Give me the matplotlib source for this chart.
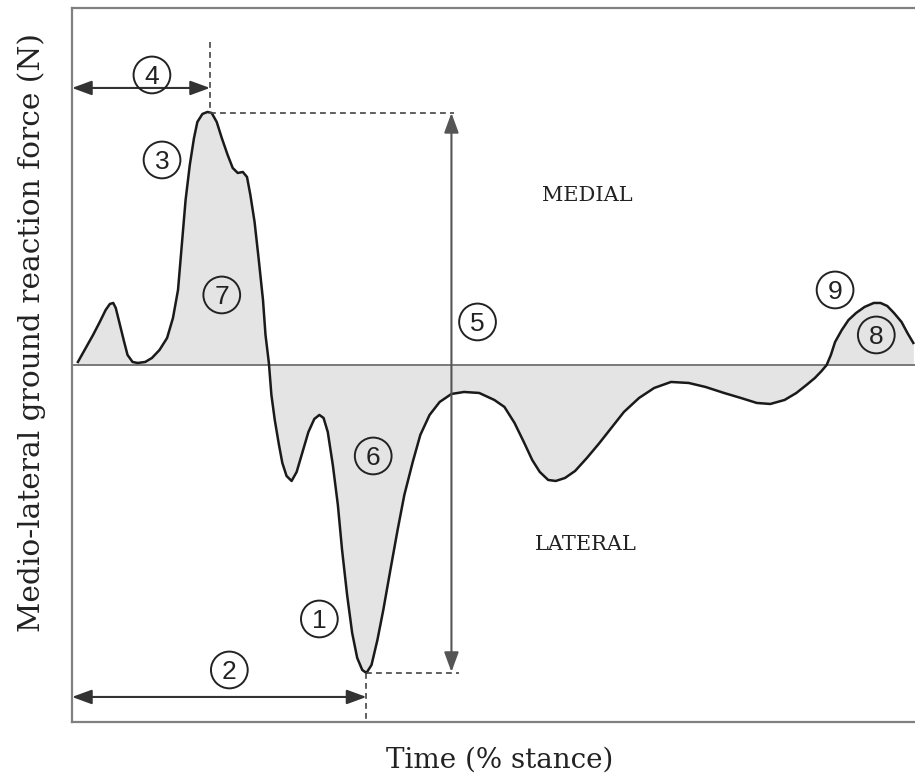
import numpy as np
import matplotlib.pyplot as plt

# time (% stance) and medio-lateral force (arbitrary N)
time_pct = [0.7, 1.5, 2.5, 3.3, 4.0, 4.5, 4.9, 5.2, 5.7, 6.2, 6.6, 7.2, 7.8, 8.7, 9.5,
            10.4, 11.3, 12.0, 12.6, 13.0, 13.5, 14.0, 14.5, 14.9, 15.5, 16.1, 16.6,
            17.2, 17.8, 18.5, 19.1, 19.7, 20.3, 20.8, 21.2, 21.7, 22.2, 22.7, 23.0,
            23.4, 23.7, 24.1, 24.6, 25.0, 25.5, 26.1, 26.7, 27.4, 28.1, 28.8, 29.4,
            29.9, 30.4, 31.0, 31.6, 32.1, 32.7, 33.3, 33.9, 34.5, 35.0, 35.6, 36.3,
            37.0, 37.8, 38.7, 39.5, 40.5, 41.4, 42.5, 43.7, 45.1, 46.6, 48.4, 50.2,
            51.4, 52.6, 53.7, 54.7, 55.6, 56.6, 57.5, 58.6, 59.8, 61.2, 62.6, 64.1,
            65.6, 67.4, 69.2, 71.2, 73.3, 75.3, 77.5, 79.5, 81.4, 83.0, 84.7, 86.1,
            87.3, 88.3, 89.1, 89.7, 90.2, 90.7, 91.5, 92.3, 93.2, 94.2, 95.3, 96.1,
            96.9, 97.7, 98.6, 99.3, 100.0]
force = [3, 15, 30, 43, 55, 61, 62, 57, 40, 23, 10, 3, 2, 3, 7,
         15, 27, 47, 75, 115, 165, 200, 227, 243, 251, 253, 252,
         243, 227, 210, 197, 192, 193, 188, 170, 143, 105, 65, 30,
         2, -30, -55, -80, -98, -111, -116, -107, -87, -67, -54, -50,
         -53, -67, -100, -140, -185, -230, -268, -293, -305, -308, -300, -275,
         -245, -207, -165, -130, -97, -70, -50, -37, -29, -27, -28, -35,
         -42, -58, -77, -95, -107, -115, -116, -113, -106, -93, -79, -63,
         -47, -33, -23, -17, -18, -22, -28, -33, -38, -39, -35, -28,
         -20, -13, -6, 0, 10, 23, 35, 45, 52, 58, 62, 62,
         59, 52, 43, 32, 22]

peak_t, peak_f = 16.4, 252      # medial peak
min_t, min_f = 35.0, -308       # lateral peak

labels = ["1", "2", "3", "4", "5", "6", "7", "8", "9"]
label_x = [29.4, 18.7, 10.7, 9.5, 48.2, 35.8, 17.8, 95.6, 90.7]
label_y = [-254, -305, 205, 290, 43, -91, 70, 30, 75]

serif = "DejaVu Serif"
fig = plt.figure(figsize=(9.15, 7.8), dpi=100)
ax = fig.add_axes([0.0787, 0.0744, 0.9213, 0.9154])
ax.set_xlim(0, 100.2)
ax.set_ylim(-357, 357)

ax.fill_between(time_pct, force, 0, color="#e4e4e4", lw=0)
ax.axhline(0, color="#707070", lw=1.3)
ax.plot(time_pct, force, color="#1a1a1a", lw=1.8, solid_joinstyle="round")

dash = dict(color="#444444", lw=1.2, ls=(0, (3.5, 2.5)))
ax.plot([peak_t, peak_t], [323, peak_f], **dash)
ax.plot([peak_t, 45.4], [peak_f, peak_f], **dash)
ax.plot([min_t, 46.0], [min_f, min_f], **dash)
ax.plot([min_t, min_t], [min_f, -357], **dash)

arr = dict(arrowstyle="<|-|>,head_length=0.6,head_width=0.22", color="#333333",
           lw=1.5, shrinkA=0, shrinkB=0, mutation_scale=20)
ax.annotate("", xy=(0, 277), xytext=(peak_t, 277), arrowprops=arr)
ax.annotate("", xy=(0, -332), xytext=(min_t, -332), arrowprops=arr)
arr_v = dict(arr, color="#555555")
ax.annotate("", xy=(45.1, peak_f), xytext=(45.1, min_f + 1), arrowprops=arr_v)

ax.scatter(label_x, label_y, s=700, facecolors="none", edgecolors="#222222", lw=1.4, zorder=4)
for lab, lx, ly in zip(labels, label_x, label_y):
    ax.text(lx, ly, lab, ha="center", va="center_baseline", fontsize=19,
            family="Liberation Sans", color="#222222", zorder=5)

ax.text(61.2, 169, "MEDIAL", ha="center", va="center", fontsize=15, family=serif, color="#222222")
ax.text(61.1, -180, "LATERAL", ha="center", va="center", fontsize=15, family=serif, color="#222222")

ax.set_xticks([])
ax.set_yticks([])
ax.spines["right"].set_visible(False)
for s in ["left", "top", "bottom"]:
    ax.spines[s].set_color("#808080")
    ax.spines[s].set_linewidth(1.6)

fig.text(0.546, 0.026, "Time (% stance)", ha="center", va="center", fontsize=20,
         family=serif, color="#222222")
fig.text(0.034, 0.574, "Medio-lateral ground reaction force (N)", ha="center", va="center",
         rotation=90, fontsize=21.3, family=serif, color="#222222")

fig.savefig("out.png", dpi=100)
